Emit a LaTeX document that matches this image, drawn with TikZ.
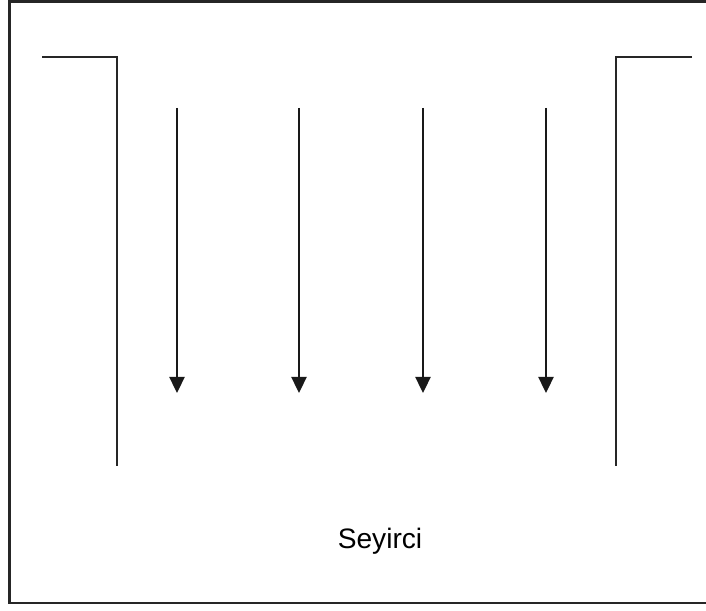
\documentclass[tikz,border=0pt]{standalone}
\usepackage{fontspec}
\setmainfont{Liberation Sans}
\usetikzlibrary{arrows.meta, positioning}
\tikzset{
    wall/.style={line width=1.6pt, draw=black!85},
    flow/.style={-{Triangle[length=4mm, width=3.8mm]}, line width=1.1pt, draw=black!90},
    frame/.style={line width=1.6pt, draw=black!85}
}

\begin{document}
\begin{tikzpicture}[x=0.025cm, y=-0.025cm]
            % Bounding box
            \useasboundingbox (0,0) rectangle (706,611);

            % Outer frame (right side cut off)
            \draw[frame] (720,1.5) -- (9.5,1.5) -- (9.5,603) -- (720,603);

            % Side walls
            \coordinate (lwallA) at (42,57);
            \coordinate (lwallB) at (117,57);
            \coordinate (lwallC) at (117,466);
            \coordinate (rwallA) at (692,57);
            \coordinate (rwallB) at (616,57);
            \coordinate (rwallC) at (616,466);
            \draw[wall] (lwallA) -- (lwallB) -- (lwallC);
            \draw[wall] (rwallA) -- (rwallB) -- (rwallC);

            % Flow arrows
            \foreach \i/\x in {1/177, 2/299, 3/423, 4/546} {
                \coordinate (top\i) at (\x,108);
                \coordinate (bot\i) at (\x,393);
                \draw[flow] (top\i) -- (bot\i);
            }

            % Audience label
            \node[font=\fontsize{20}{24}\selectfont] (audience) at (380,541) {Seyirci};
        \end{tikzpicture}
\end{document}
